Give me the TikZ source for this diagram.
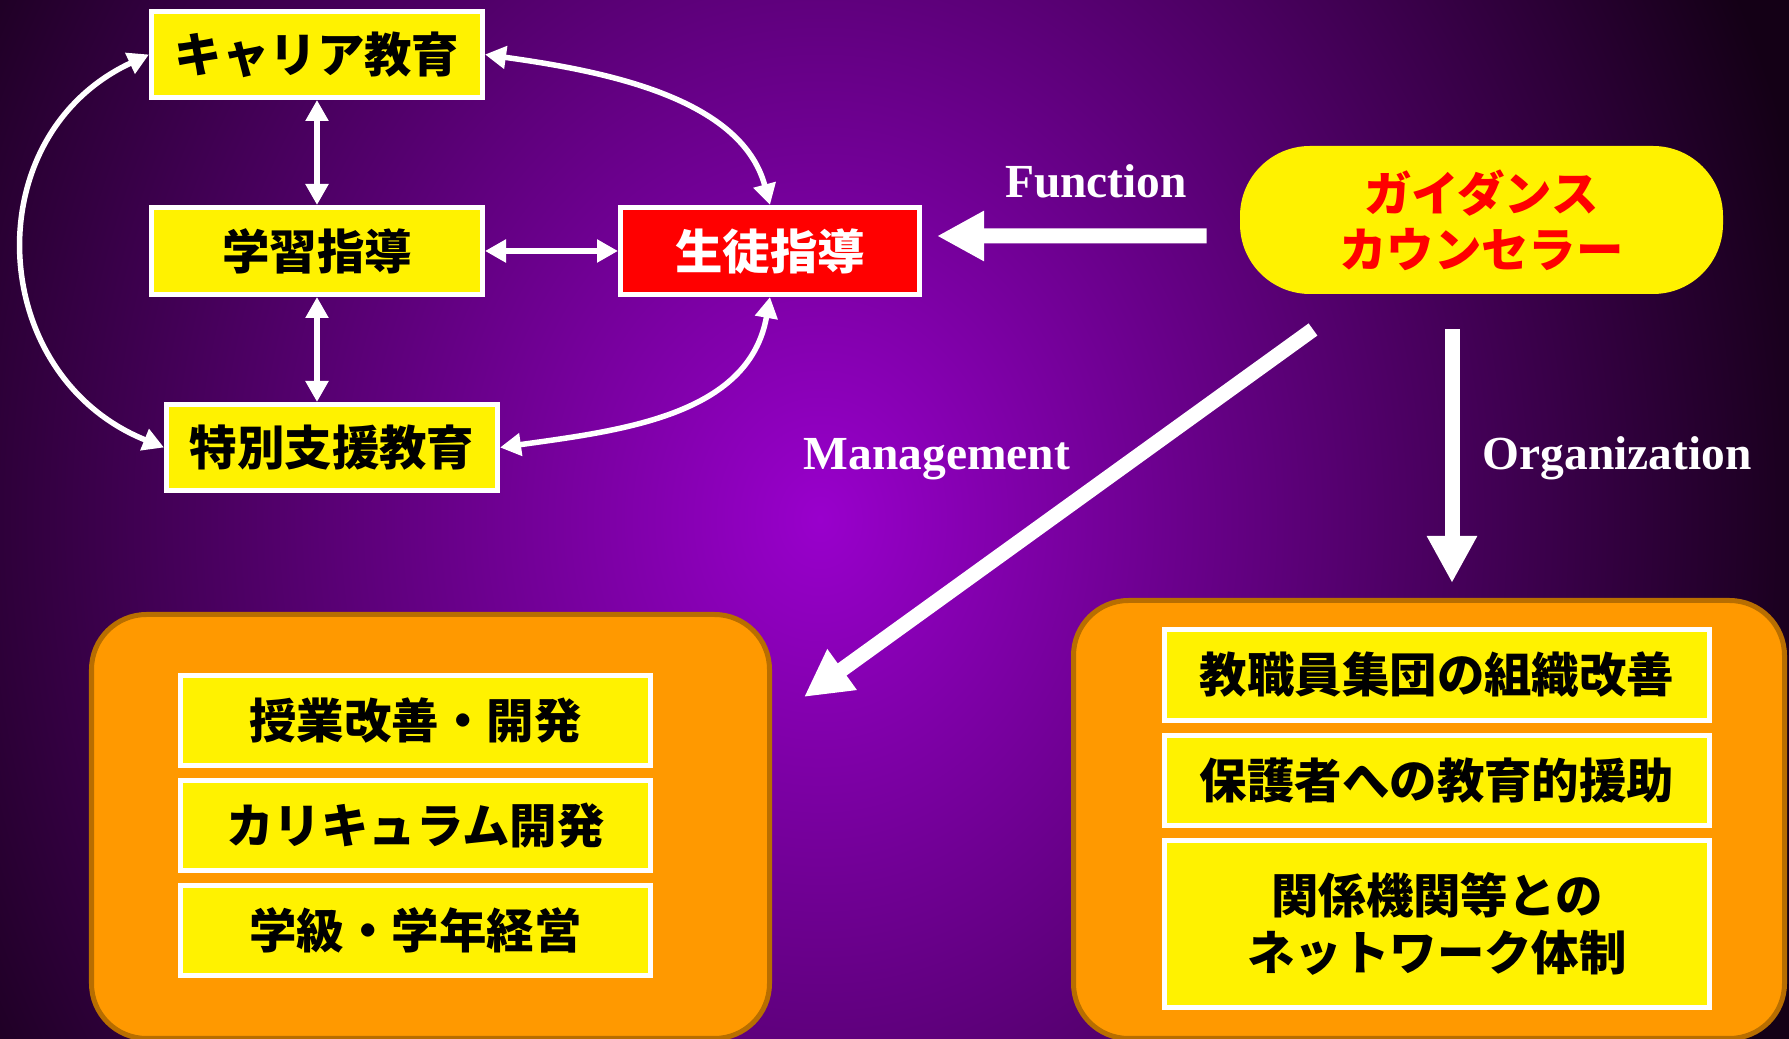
\documentclass[tikz,border=0pt]{standalone}
\usepackage{fontspec}
\setmainfont{Liberation Serif}
\newfontfamily\jpfont{Noto Sans CJK JP}
\usepackage{tikz}
\usetikzlibrary{calc}
\usetikzlibrary{arrows.meta}
\usetikzlibrary{positioning}
\definecolor{glowcore}{HTML}{9900CC}
\definecolor{glowedge}{HTML}{140016}
\definecolor{panelfill}{HTML}{FF9900}
\definecolor{panelline}{HTML}{B86E00}
\tikzset{%
  mybox/.style={rectangle, draw=white, line width=0.05cm, fill=yellow, text=black, inner sep=0pt, align=center, font=\jpfont\bfseries\fontsize{13.5}{16}\selectfont},
  mypanel/.style={rectangle, draw=panelline, line width=0.05cm, fill=panelfill, rounded corners=0.55cm},
  myedge/.style={<->, >={Triangle[width=0.22cm, length=0.21cm]}, draw=white, line width=0.055cm},
  mybigedge/.style={-{Triangle[width=0.47cm, length=0.47cm]}, draw=white, line width=0.15cm},
  mylabel/.style={anchor=base, text=white, font=\bfseries\fontsize{13.5}{16}\selectfont}
}

\begin{document}
\begin{tikzpicture}
  \useasboundingbox (0,0) rectangle (17.89,10.39);
  \begin{scope}
    \clip (0,0) rectangle (17.89,10.39);
    \shade[inner color=glowcore, outer color=glowedge] (-2.0,-6.8) rectangle (18.4,17.2);
  \end{scope}

  \node[mybox, minimum width=3.31cm, minimum height=0.86cm] (career) at (3.17,9.845) {キャリア教育};
  \node[mybox, minimum width=3.31cm, minimum height=0.87cm, below=1.05cm of career] (gakushu) {学習指導};
  \node[mybox, minimum width=3.31cm, minimum height=0.86cm, below=1.05cm of gakushu, xshift=0.15cm] (tokubetsu) {特別支援教育};
  \node[mybox, fill=red, text=white, minimum width=2.99cm, minimum height=0.87cm, right=1.33cm of gakushu] (seito) {生徒指導};
  \node[mybox, draw=none, text=red, rounded corners=0.7cm, minimum width=4.83cm, minimum height=1.48cm] (counsel) at (14.815,8.19) {ガイダンス\\カウンセラー};

  \node[mypanel, minimum width=6.78cm, minimum height=4.24cm] (lpanel) at (4.305,2.125) {};
  \node[mypanel, minimum width=7.11cm, minimum height=4.38cm] (rpanel) at (14.29,2.195) {};

  \node[mybox, minimum width=4.70cm, minimum height=0.90cm] (lbox1) at (4.155,3.185) {授業改善・開発};
  \node[mybox, minimum width=4.70cm, minimum height=0.90cm, below=0.1cm of lbox1] (lbox2) {カリキュラム開発};
  \node[mybox, minimum width=4.70cm, minimum height=0.90cm, below=0.1cm of lbox2] (lbox3) {学級・学年経営};

  \node[mybox, minimum width=5.45cm, minimum height=0.91cm] (rbox1) at (14.37,3.64) {教職員集団の組織改善};
  \node[mybox, minimum width=5.45cm, minimum height=0.90cm, below=0.1cm of rbox1] (rbox2) {保護者への教育的援助};
  \node[mybox, minimum width=5.45cm, minimum height=1.67cm, below=0.1cm of rbox2] (rbox3) {関係機関等との\\ネットワーク体制};

  \draw[myedge] (career) -- (gakushu);
  \draw[myedge] (gakushu.south) -- (gakushu.south |- tokubetsu.north);
  \draw[myedge] (gakushu) -- (seito);
  \draw[myedge] (career.east) to[out=-8, in=105, looseness=0.9] (seito.north);
  \draw[myedge] (seito.south) to[out=-100, in=8] (tokubetsu.east);
  \draw[myedge] (career.west) to[out=205, in=158, looseness=1.25] (tokubetsu.west);

  \node[mylabel] (function) at (10.96,8.41) {Function};
  \node[mylabel] (management) at (9.37,5.69) {Management};
  \node[mylabel] (organization) at (16.17,5.69) {Organization};

  \draw[mybigedge] ([shift={(-0.31,-0.16)}]counsel.west) -- ([shift={(0.15,0.15)}]seito.east);
  \draw[mybigedge] ([shift={(-1.685,-0.33)}]counsel.south) -- ([shift={(0.32,-0.85)}]lpanel.north east);
  \coordinate (orgtop) at ([shift={(-0.295,-0.33)}]counsel.south);
  \draw[mybigedge] (orgtop) -- ([yshift=0.15cm]orgtop |- rpanel.north);
\end{tikzpicture}
\end{document}
